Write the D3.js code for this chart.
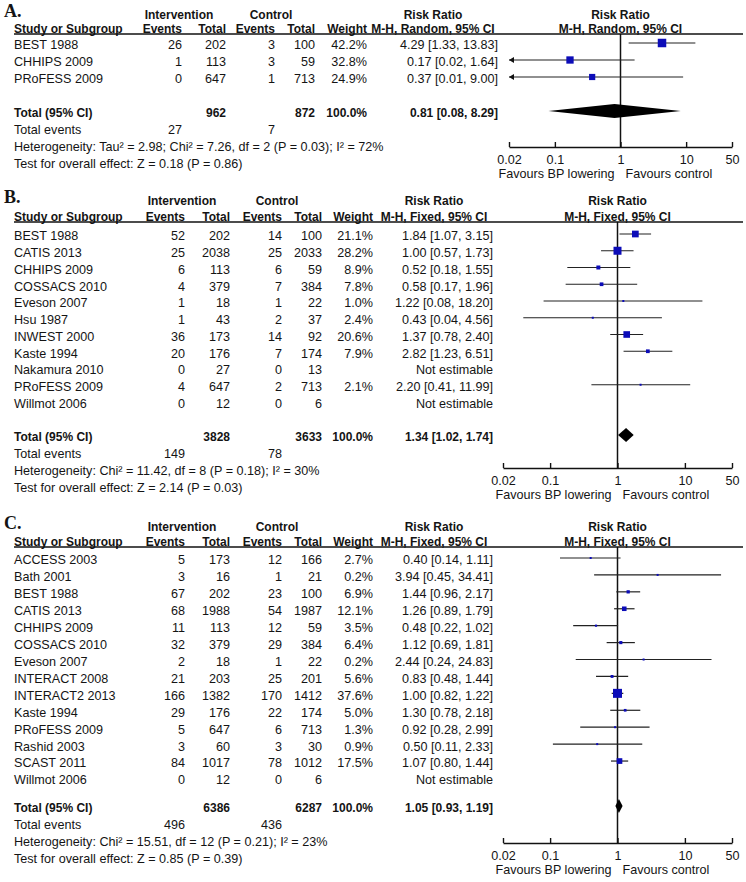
<!DOCTYPE html>
<html><head><meta charset="utf-8">
<script src="https://cdn.jsdelivr.net/npm/d3@7"></script>
<style>
body{margin:0;background:#fff}
svg text{font-family:"Liberation Sans",Arial,sans-serif;font-size:12.6px;fill:#141414}
svg text.b{font-weight:bold;font-size:12px}
svg text.letter{font-family:"Liberation Serif","Times New Roman",serif;font-size:18px;font-weight:bold}
</style></head><body>
<svg id="c" width="746" height="882"></svg>
<script>
// ---------- Panel A ----------
const aStudies   = ["BEST 1988","CHHIPS 2009","PRoFESS 2009"];
const aIntEvents = [26,1,0];
const aIntTotal  = [202,113,647];
const aCtlEvents = [3,3,1];
const aCtlTotal  = [100,59,713];
const aWeight    = [42.2,32.8,24.9];
const aRR        = [4.29,0.17,0.37];
const aLo        = [1.33,0.02,0.01];
const aHi        = [13.83,1.64,9.00];
const aTotals    = {intTotal:962, ctlTotal:872, rr:0.81, lo:0.08, hi:8.29, intEvents:27, ctlEvents:7};
const aHet  = "Heterogeneity: Tau\u00b2 = 2.98; Chi\u00b2 = 7.26, df = 2 (P = 0.03); I\u00b2 = 72%";
const aTest = "Test for overall effect: Z = 0.18 (P = 0.86)";

// ---------- Panel B ----------
const bStudies   = ["BEST 1988","CATIS 2013","CHHIPS 2009","COSSACS 2010","Eveson 2007","Hsu 1987","INWEST 2000","Kaste 1994","Nakamura 2010","PRoFESS 2009","Willmot 2006"];
const bIntEvents = [52,25,6,4,1,1,36,20,0,4,0];
const bIntTotal  = [202,2038,113,379,18,43,173,176,27,647,12];
const bCtlEvents = [14,25,6,7,1,2,14,7,0,2,0];
const bCtlTotal  = [100,2033,59,384,22,37,92,174,13,713,6];
const bWeight    = [21.1,28.2,8.9,7.8,1.0,2.4,20.6,7.9,null,2.1,null];
const bRR        = [1.84,1.00,0.52,0.58,1.22,0.43,1.37,2.82,null,2.20,null];
const bLo        = [1.07,0.57,0.18,0.17,0.08,0.04,0.78,1.23,null,0.41,null];
const bHi        = [3.15,1.73,1.55,1.96,18.20,4.56,2.40,6.51,null,11.99,null];
const bTotals    = {intTotal:3828, ctlTotal:3633, rr:1.34, lo:1.02, hi:1.74, intEvents:149, ctlEvents:78};
const bHet  = "Heterogeneity: Chi\u00b2 = 11.42, df = 8 (P = 0.18); I\u00b2 = 30%";
const bTest = "Test for overall effect: Z = 2.14 (P = 0.03)";

// ---------- Panel C ----------
const cStudies   = ["ACCESS 2003","Bath 2001","BEST 1988","CATIS 2013","CHHIPS 2009","COSSACS 2010","Eveson 2007","INTERACT 2008","INTERACT2 2013","Kaste 1994","PRoFESS 2009","Rashid 2003","SCAST 2011","Willmot 2006"];
const cIntEvents = [5,3,67,68,11,32,2,21,166,29,5,3,84,0];
const cIntTotal  = [173,16,202,1988,113,379,18,203,1382,176,647,60,1017,12];
const cCtlEvents = [12,1,23,54,12,29,1,25,170,22,6,3,78,0];
const cCtlTotal  = [166,21,100,1987,59,384,22,201,1412,174,713,30,1012,6];
const cWeight    = [2.7,0.2,6.9,12.1,3.5,6.4,0.2,5.6,37.6,5.0,1.3,0.9,17.5,null];
const cRR        = [0.40,3.94,1.44,1.26,0.48,1.12,2.44,0.83,1.00,1.30,0.92,0.50,1.07,null];
const cLo        = [0.14,0.45,0.96,0.89,0.22,0.69,0.24,0.48,0.82,0.78,0.28,0.11,0.80,null];
const cHi        = [1.11,34.41,2.17,1.79,1.02,1.81,24.83,1.44,1.22,2.18,2.99,2.33,1.44,null];
const cTotals    = {intTotal:6386, ctlTotal:6287, rr:1.05, lo:0.93, hi:1.19, intEvents:496, ctlEvents:436};
const cHet  = "Heterogeneity: Chi\u00b2 = 15.51, df = 12 (P = 0.21); I\u00b2 = 23%";
const cTest = "Test for overall effect: Z = 0.85 (P = 0.39)";

// ---------- Axis ----------
const axisDomain = [0.02, 50];
const tickValues = [0.02, 0.1, 1, 10, 50];
const tickLabels = ["0.02", "0.1", "1", "10", "50"];
const favoursLeft = "Favours BP lowering";
const favoursRight = "Favours control";

const colsA = {ev1:182, tot1:226, ev2:275, tot2:315, w:367, ci:498, int:179, ctl:271, rr:433};
const colsBC = {ev1:185, tot1:230, ev2:282, tot2:322, w:373, ci:493, int:182, ctl:277, rr:434};

const panels = [
  {letter:"A.", method:"M-H, Random, 95% CI", s:aStudies, ie:aIntEvents, it:aIntTotal, ce:aCtlEvents, ct:aCtlTotal, w:aWeight, rr:aRR, lo:aLo, hi:aHi, tot:aTotals, het:aHet, test:aTest,
   L:{h1:15, ul:34, row0:45, step:17, total:113, axis:147, xr:[509,732], c:colsA, maxSide:8.5}},
  {letter:"B.", method:"M-H, Fixed, 95% CI", s:bStudies, ie:bIntEvents, it:bIntTotal, ce:bCtlEvents, ct:bCtlTotal, w:bWeight, rr:bRR, lo:bLo, hi:bHi, tot:bTotals, het:bHet, test:bTest,
   L:{h1:201, ul:222, row0:236, step:16.75, total:437, axis:468, xr:[503,732], c:colsBC, maxSide:8}},
  {letter:"C.", method:"M-H, Fixed, 95% CI", s:cStudies, ie:cIntEvents, it:cIntTotal, ce:cCtlEvents, ct:cCtlTotal, w:cWeight, rr:cRR, lo:cLo, hi:cHi, tot:cTotals, het:cHet, test:cTest,
   L:{h1:527, ul:547, row0:560, step:16.92, total:808, axis:843, xr:[503,732], c:colsBC, maxSide:9}}
];

const svg = d3.select("#c");
const f2 = d3.format(".2f"), f1 = d3.format(".1f");
const ciText = (r,l,h) => r == null ? "Not estimable" : `${f2(r)} [${f2(l)}, ${f2(h)}]`;

function txt(g, x, y, s, anchor, cls) {
  return g.append("text").attr("x", x).attr("y", y).attr("dy", "0.35em")
    .attr("text-anchor", anchor || "start").attr("class", cls || null).text(s);
}

panels.forEach(p => {
  const L = p.L, c = L.c;
  const g = svg.append("g");
  const x = d3.scaleLog().domain(axisDomain).range(L.xr);
  const maxW = d3.max(p.w);
  const side = d3.scalePow().exponent(0.6).domain([0, maxW]).range([0, L.maxSide]);
  const h2 = L.ul - 5;

  g.append("text").attr("class", "letter").attr("x", 4).attr("y", L.h1 - 4).attr("dy", "0.35em").text(p.letter);

  // header
  txt(g, c.int, L.h1, "Intervention", "middle", "b");
  txt(g, c.ctl, L.h1, "Control", "middle", "b");
  txt(g, c.rr, L.h1, "Risk Ratio", "middle", "b");
  txt(g, x(1), L.h1, "Risk Ratio", "middle", "b");
  txt(g, 14, h2, "Study or Subgroup", "start", "b");
  txt(g, c.ev1, h2, "Events", "end", "b");
  txt(g, c.tot1, h2, "Total", "end", "b");
  txt(g, c.ev2, h2, "Events", "end", "b");
  txt(g, c.tot2, h2, "Total", "end", "b");
  txt(g, c.w, h2, "Weight", "end", "b");
  txt(g, c.rr, h2, p.method, "middle", "b");
  txt(g, x(1), h2, p.method, "middle", "b");
  g.append("line").attr("x1", 14).attr("x2", 743).attr("y1", L.ul).attr("y2", L.ul)
    .attr("stroke", "#111").attr("stroke-width", 1.4);

  // vertical line at RR = 1
  g.append("line").attr("x1", x(1)).attr("x2", x(1)).attr("y1", L.ul).attr("y2", L.axis)
    .attr("stroke", "#111").attr("stroke-width", 1.5);

  // study rows
  p.s.forEach((name, i) => {
    const y = L.row0 + i * L.step;
    txt(g, 14, y, name);
    txt(g, c.ev1, y, p.ie[i], "end");
    txt(g, c.tot1, y, p.it[i], "end");
    txt(g, c.ev2, y, p.ce[i], "end");
    txt(g, c.tot2, y, p.ct[i], "end");
    if (p.w[i] != null) txt(g, c.w, y, f1(p.w[i]) + "%", "end");
    txt(g, c.ci, y, ciText(p.rr[i], p.lo[i], p.hi[i]), "end");
    if (p.rr[i] != null) {
      const ym = y - 2;
      const lo = Math.max(p.lo[i], axisDomain[0]), hi = Math.min(p.hi[i], axisDomain[1]);
      g.append("line").attr("x1", x(lo)).attr("x2", x(hi)).attr("y1", ym).attr("y2", ym)
        .attr("stroke", "#222").attr("stroke-width", 1.2);
      if (p.lo[i] <= axisDomain[0]) {
        const ax = x(axisDomain[0]);
        g.append("path").attr("d", `M${ax},${ym}L${ax+5},${ym-3}L${ax+5},${ym+3}Z`).attr("fill", "#111");
      }
      if (p.hi[i] >= axisDomain[1]) {
        const ax = x(axisDomain[1]);
        g.append("path").attr("d", `M${ax},${ym}L${ax-5},${ym-3}L${ax-5},${ym+3}Z`).attr("fill", "#111");
      }
      const s = Math.max(2, side(p.w[i]));
      g.append("rect").attr("x", x(p.rr[i]) - s/2).attr("y", ym - s/2).attr("width", s).attr("height", s)
        .attr("fill", "#0c0cb8");
    }
  });

  // total row
  const t = p.tot, ty = L.total;
  txt(g, 14, ty, "Total (95% CI)", "start", "b");
  txt(g, c.tot1, ty, t.intTotal, "end", "b");
  txt(g, c.tot2, ty, t.ctlTotal, "end", "b");
  txt(g, c.w, ty, "100.0%", "end", "b");
  txt(g, c.ci, ty, ciText(t.rr, t.lo, t.hi), "end", "b");
  const dy = ty - 2, hh = 7;
  g.append("path").attr("d", `M${x(t.lo)},${dy}L${x(t.rr)},${dy-hh}L${x(t.hi)},${dy}L${x(t.rr)},${dy+hh}Z`).attr("fill", "#000");

  txt(g, 14, ty + 17, "Total events");
  txt(g, c.ev1, ty + 17, t.intEvents, "end");
  txt(g, c.ev2, ty + 17, t.ctlEvents, "end");
  txt(g, 14, ty + 34, p.het);
  txt(g, 14, ty + 51, p.test);

  // axis
  const axis = d3.axisBottom(x).tickValues(tickValues).tickFormat((d, i) => tickLabels[i])
    .tickSizeInner(-5).tickSizeOuter(0).tickPadding(8);
  const ag = g.append("g").attr("transform", `translate(0,${L.axis})`).call(axis);
  ag.select(".domain").attr("stroke", "#111").attr("stroke-width", 1.4);
  ag.selectAll(".tick line").attr("stroke", "#111").attr("stroke-width", 1.4);
  ag.selectAll(".tick text").attr("fill", "#141414").style("font-size", "12.6px")
    .style("font-family", '"Liberation Sans",Arial,sans-serif');
  txt(g, x(1) - 6, L.axis + 27, favoursLeft, "end");
  txt(g, x(1) + 5, L.axis + 27, favoursRight, "start");
});
</script>
</body></html>
